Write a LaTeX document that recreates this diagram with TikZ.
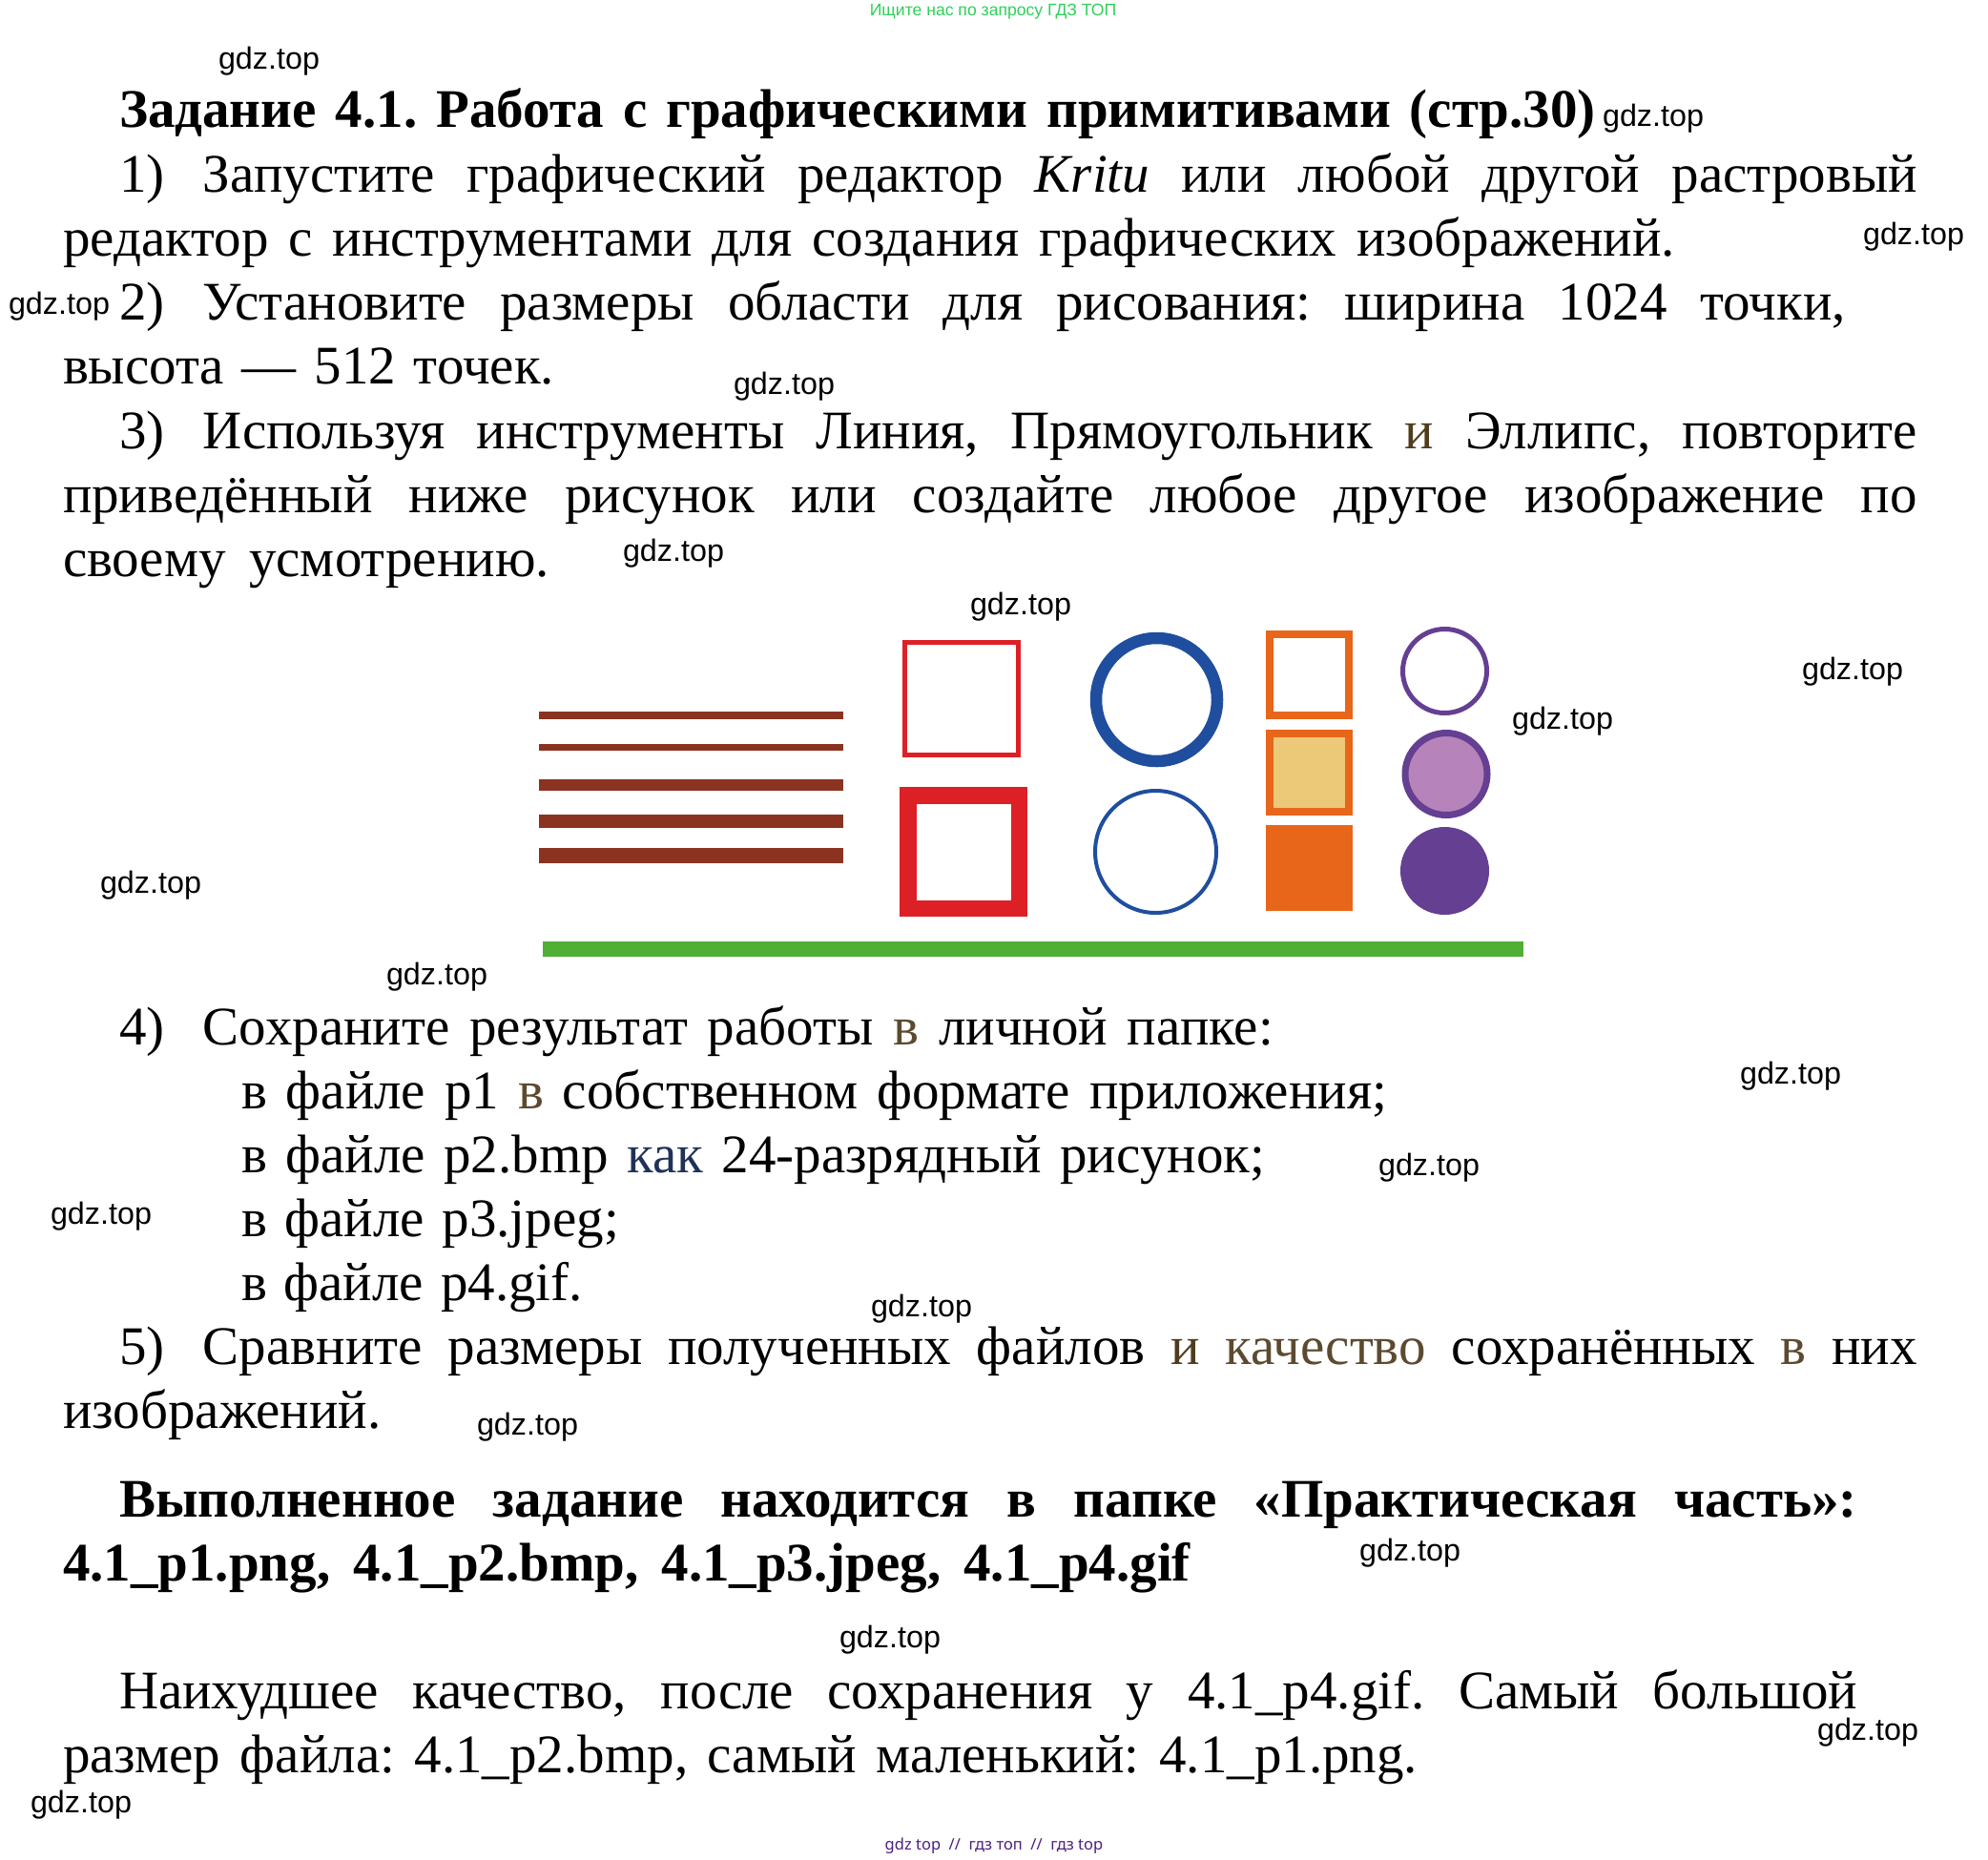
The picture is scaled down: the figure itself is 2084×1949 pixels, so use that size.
\documentclass[tikz,border=0pt]{standalone}
\usepackage{fontspec}
\setmainfont{Liberation Serif}
\newfontfamily\wmfont{Liberation Sans}
\newfontfamily\nsfont{Noto Sans}
\definecolor{brownline}{HTML}{8A3320}
\definecolor{redbox}{HTML}{DD1F26}
\definecolor{bluering}{HTML}{1F4E9F}
\definecolor{orangebox}{HTML}{E8661A}
\definecolor{sandfill}{HTML}{ECC879}
\definecolor{purplering}{HTML}{643F92}
\definecolor{lilacfill}{HTML}{B783BB}
\definecolor{greenbar}{HTML}{4FB035}
\definecolor{olive}{HTML}{4F3D1E}
\definecolor{olivelt}{HTML}{5C4A30}
\definecolor{navyword}{HTML}{1F3258}
\definecolor{topgreen}{HTML}{2FD05A}
\definecolor{botpurple}{HTML}{4A2080}
\newcommand\bodyfont{\fontsize{57}{64}\selectfont\frenchspacing}
\newcommand\txtline[5]{\node[linetext] (#1) at (#2,#3) {\makebox[#4pt][s]{#5}};}
\newcommand\numlabel[1]{\makebox[88pt][l]{#1}}
\tikzset{
  linetext/.style={anchor=base west,inner sep=0pt,outer sep=0pt,font=\bodyfont},
  wmark/.style={anchor=center,inner sep=0pt,font=\wmfont\fontsize{32.3}{36}\selectfont,text=black},
  brownbar/.style={draw=none,fill=brownline},
}
\begin{document}
\begin{tikzpicture}[x=1pt,y=-1pt]
\useasboundingbox (0,0) rectangle (2084,1949);
\fill[white] (0,0) rectangle (2084,1949);
% header / footer
\node[anchor=center,inner sep=0pt,font=\wmfont\fontsize{17.6}{20}\selectfont,text=topgreen] (hdr) at (1041,12) {Ищите нас по запросу ГДЗ ТОП};
\node[anchor=center,inner sep=0pt,font=\nsfont\fontsize{16.5}{20}\selectfont,text=botpurple] (ftr) at (1042,1935) {gdz top\ \ //\ \ гдз топ\ \ //\ \ гдз top};
% text
\txtline{t0}{125}{133}{1548}{\bfseries Задание 4.1. Работа с графическими примитивами (стр.30)}
\txtline{t1}{125}{201}{1885}{\numlabel{1)}Запустите графический редактор \textit{Kritu} или любой другой растровый}
\txtline{t2}{66}{268}{1690}{редактор с инструментами для создания графических изображений.}
\txtline{t3}{125}{335.5}{1810}{\numlabel{2)}Установите размеры области для рисования: ширина 1024 точки,}
\txtline{t4}{66}{402.5}{515}{высота — 512 точек.}
\txtline{t5}{125}{470}{1885}{\numlabel{3)}Используя инструменты Линия, Прямоугольник \textcolor{olive}{и} Эллипс, повторите}
\txtline{t6}{66}{537}{1944}{приведённый ниже рисунок или создайте любое другое изображение по}
\txtline{t7}{66}{604}{510}{своему усмотрению.}
\txtline{t8}{125}{1095}{1210}{\numlabel{4)}Сохраните результат работы \textcolor{olivelt}{в} личной папке:}
\txtline{t9}{253}{1162.5}{1201}{в файле p1 \textcolor{olivelt}{в} собственном формате приложения;}
\txtline{t10}{253}{1229}{1073}{в файле p2.bmp \textcolor{navyword}{как} 24-разрядный рисунок;}
\txtline{t11}{253}{1296}{396}{в файле p3.jpeg;}
\txtline{t12}{253}{1363}{358}{в файле p4.gif.}
\txtline{t13}{125}{1430}{1885}{\numlabel{5)}Сравните размеры полученных файлов \textcolor{olive}{и} \textcolor{olivelt}{качество} сохранённых \textcolor{olivelt}{в} них}
\txtline{t14}{66}{1497}{339}{изображений.}
\txtline{t15}{125}{1590}{1822}{\bfseries Выполненное задание находится в папке «Практическая часть»:}
\txtline{t16}{66}{1657}{1182}{\bfseries 4.1\_p1.png, 4.1\_p2.bmp, 4.1\_p3.jpeg, 4.1\_p4.gif}
\txtline{t17}{125}{1791}{1822}{Наихудшее качество, после сохранения у 4.1\_p4.gif. Самый большой}
\txtline{t18}{66}{1858}{1420}{размер файла: 4.1\_p2.bmp, самый маленький: 4.1\_p1.png.}
% figure: lines
\fill[brownbar] (565,746) rectangle (884,754);
\fill[brownbar] (565,779.5) rectangle (884,786.5);
\fill[brownbar] (565,817) rectangle (884,829);
\fill[brownbar] (565,854) rectangle (884,868);
\fill[brownbar] (565,889) rectangle (884,905);
% red squares
\draw[redbox,line width=5pt] (948.5,673.5) rectangle (1067.5,791.5);
\draw[redbox,line width=17.5pt] (951.75,833.75) rectangle (1068.25,952.25);
% blue rings
\draw[bluering,line width=12.5pt] (1212.5,733.5) ellipse (63.5 and 64.5);
\draw[bluering,line width=4pt] (1211.5,893) ellipse (63.5 and 64);
% orange squares
\draw[orangebox,line width=8pt] (1331,665) rectangle (1414,750);
\draw[orangebox,line width=8pt,fill=sandfill] (1331,769) rectangle (1414,851);
\fill[orangebox] (1327,865) rectangle (1418,955);
% purple circles
\draw[purplering,line width=5pt] (1514.5,703.5) ellipse (44 and 44);
\draw[purplering,line width=7pt,fill=lilacfill] (1516,811.5) ellipse (43 and 43);
\fill[purplering] (1514.5,913) ellipse (46.5 and 46);
% green bar
\fill[greenbar] (569,987) rectangle (1597,1003);
% watermarks
\node[wmark] (w1) at (282,64.5) {gdz.top};
\node[wmark] (w2) at (1733,124.5) {gdz.top};
\node[wmark] (w3) at (2006,248.5) {gdz.top};
\node[wmark] (w4) at (62,321.5) {gdz.top};
\node[wmark] (w5) at (822,405.5) {gdz.top};
\node[wmark] (w6) at (706,580.5) {gdz.top};
\node[wmark] (w7) at (1070,636.5) {gdz.top};
\node[wmark] (w8) at (1942,704.5) {gdz.top};
\node[wmark] (w9) at (1638,756.5) {gdz.top};
\node[wmark] (w10) at (158,928.5) {gdz.top};
\node[wmark] (w11) at (458,1024.5) {gdz.top};
\node[wmark] (w12) at (1877,1128.5) {gdz.top};
\node[wmark] (w13) at (1498,1224.5) {gdz.top};
\node[wmark] (w14) at (106,1275.5) {gdz.top};
\node[wmark] (w15) at (966,1372.5) {gdz.top};
\node[wmark] (w16) at (553,1496.5) {gdz.top};
\node[wmark] (w17) at (1478,1628.5) {gdz.top};
\node[wmark] (w18) at (933,1719.5) {gdz.top};
\node[wmark] (w19) at (1958,1816.5) {gdz.top};
\node[wmark] (w20) at (85,1892.5) {gdz.top};
\end{tikzpicture}
\end{document}
